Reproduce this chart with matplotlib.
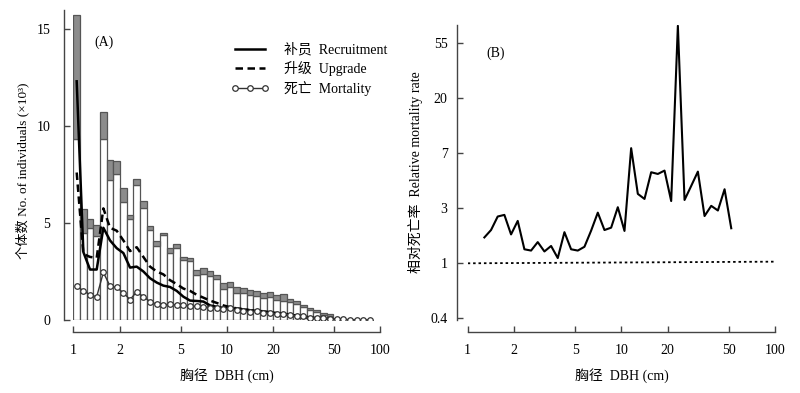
import numpy as np
import matplotlib.pyplot as plt

plt.rcParams['font.family'] = ['Liberation Serif', 'Noto Sans CJK SC']
plt.rcParams['font.size'] = 10

# ---- DBH classes: width 0.1 in ln(DBH), starting at 1 cm ----
n_class = 45
edges = np.exp(0.1 * np.arange(n_class + 1))
centers = np.exp(0.1 * (np.arange(n_class) + 0.5))

# ---- (A) number of individuals (x1000) per class ----
bar_total = [15.7, 5.7, 5.2, 4.9, 10.7, 8.24, 8.2, 6.8, 5.4, 7.25,
             6.13, 4.85, 4.07, 4.48, 3.73, 3.9, 3.24, 3.2, 2.58, 2.68,
             2.5, 2.34, 1.9, 1.96, 1.72, 1.63, 1.55, 1.48, 1.41, 1.44,
             1.29, 1.34, 1.08, 0.98, 0.77, 0.64, 0.52, 0.34, 0.31]
bar_white = [9.33, 4.5, 4.75, 4.33, 9.33, 7.2, 7.5, 6.1, 5.2, 6.95,
             5.77, 4.64, 3.83, 4.4, 3.45, 3.73, 3.1, 3.06, 2.32, 2.37,
             2.27, 2.1, 1.6, 1.72, 1.38, 1.41, 1.29, 1.25, 1.15, 1.2,
             1.03, 1.0, 0.94, 0.82, 0.69, 0.52, 0.43, 0.26, 0.2]

recruit = [12.3, 3.5, 2.6, 2.6, 4.75, 4.1, 3.7, 3.45, 2.7, 2.75,
           2.5, 2.15, 1.93, 1.77, 1.7, 1.5, 1.2, 1.0, 0.98, 0.95,
           0.75, 0.68, 0.62, 0.6, 0.58, 0.55, 0.5, 0.47, 0.45, 0.4,
           0.36, 0.32, 0.28, 0.22, 0.18, 0.13, 0.1, 0.07, 0.05, 0.03, 0.02]
upgrade = [7.6, 3.4, 3.25, 3.2, 5.75, 4.75, 4.6, 4.1, 3.55, 3.75,
           3.25, 2.75, 2.5, 2.35, 2.05, 1.85, 1.62, 1.5, 1.3, 1.15,
           1.0, 0.88, 0.75, 0.66, 0.6, 0.55, 0.5, 0.45, 0.4, 0.36,
           0.32, 0.28, 0.24, 0.2, 0.15, 0.11, 0.08, 0.06, 0.04, 0.02, 0.01]
mortality = [1.75, 1.5, 1.3, 1.2, 2.45, 1.75, 1.68, 1.4, 1.05, 1.45,
             1.2, 0.95, 0.82, 0.78, 0.82, 0.78, 0.75, 0.72, 0.7, 0.68,
             0.62, 0.6, 0.55, 0.6, 0.5, 0.48, 0.42, 0.45, 0.38, 0.35,
             0.3, 0.3, 0.25, 0.2, 0.18, 0.12, 0.1, 0.08, 0.05, 0.04,
             0.03, 0.02, 0.01, 0.01, 0.01]

# ---- (B) relative mortality rate, classes 2..39 ----
rel_first = 2
rel_mort = [1.6, 1.83, 2.34, 2.41, 1.69, 2.16, 1.29, 1.26, 1.47, 1.24,
            1.37, 1.1, 1.76, 1.29, 1.26, 1.35, 1.81, 2.51, 1.83, 1.91,
            2.77, 1.8, 8.1, 3.53, 3.22, 5.23, 5.07, 5.39, 3.1, 74.8,
            3.16, 4.08, 5.29, 2.36, 2.84, 2.61, 3.84, 1.89]
ref_x = [1, 100]
ref_y = [1.0, 1.03]

x_ticks = [1, 2, 5, 10, 20, 50, 100]
b_yticks = np.exp(np.arange(-1, 5))
b_ylabels = ['0.4', '1', '3', '7', '20', '55']

spine_c = '#444444'

fig = plt.figure(figsize=(8, 3.93), dpi=100)
axA = fig.add_axes([0.0917, 0.1858, 0.3838, 0.790])
axB = fig.add_axes([0.5846, 0.1858, 0.3841, 0.7506])


def style(ax, xoff, yoff, ypad):
    for s in ['top', 'right']:
        ax.spines[s].set_visible(False)
    ax.spines['left'].set_position(('outward', xoff))
    ax.spines['bottom'].set_position(('outward', yoff))
    for s in ['left', 'bottom']:
        ax.spines[s].set_color(spine_c)
        ax.spines[s].set_linewidth(1.0)
    ax.set_xscale('log')
    ax.set_xlim(1, 100)
    ax.set_xticks(x_ticks)
    ax.set_xticklabels([str(t) for t in x_ticks])
    ax.minorticks_off()
    ax.tick_params(axis='both', direction='in', length=4, width=1,
                   color=spine_c, labelsize=10)
    ax.tick_params(axis='x', pad=9)
    ax.tick_params(axis='y', pad=ypad)
    ax.spines['bottom'].set_bounds(1, 100)


# ---------------- panel A ----------------
nb = len(bar_total)
left = edges[:nb]
width = edges[1:nb + 1] - edges[:nb]
top_part = np.array(bar_total) - np.array(bar_white)
axA.bar(left, bar_white, width=width, align='edge', color='white',
        edgecolor='#555555', linewidth=0.9)
axA.bar(left, top_part, bottom=bar_white, width=width, align='edge',
        color='#8c8c8c', edgecolor='#555555', linewidth=0.9)

axA.plot(centers[:len(recruit)], recruit, color='black', lw=1.8,
         label='补员  Recruitment')
axA.plot(centers[:len(upgrade)], upgrade, color='black', lw=1.8,
         linestyle=(0, (3, 1.8)), label='升级  Upgrade')
axA.plot(centers[:len(mortality)], mortality, color='#333333', lw=1.0,
         marker='o', markersize=4, markerfacecolor='white',
         markeredgecolor='#333333', markeredgewidth=0.9,
         label='死亡  Mortality')

axA.set_ylim(0, 16)
axA.set_yticks([0, 5, 10, 15])
style(axA, 6.7, 8.3, 10)
axA.spines['left'].set_bounds(0, 16)
axA.set_xlabel('胸径  DBH (cm)', fontsize=10)
axA.xaxis.set_label_coords(0.5, -0.155)
axA.set_ylabel('个体数 No. of individuals (×10³)', fontsize=9.5)
axA.yaxis.set_label_coords(-0.144, 0.48)
axA.text(0.07, 0.896, '(A)', transform=axA.transAxes, fontsize=10,
         va='center', ha='left')
axA.legend(loc='upper left', bbox_to_anchor=(0.49, 0.915), frameon=False,
           fontsize=10, handlelength=2.8, handletextpad=1.0,
           labelspacing=0.35, borderpad=0, numpoints=3)

# ---------------- panel B ----------------
axB.set_yscale('log')
axB.plot(centers[rel_first:rel_first + len(rel_mort)], rel_mort,
         color='black', lw=1.5)
axB.plot(ref_x, ref_y, color='black', lw=1.3, linestyle=(0, (1.4, 1.6)))
axB.set_ylim(np.exp(-1.03), np.exp(4.33))
axB.set_yticks(b_yticks)
axB.set_yticklabels(b_ylabels)
style(axB, 7.5, 8.6, 7)
axB.set_xlabel('胸径  DBH (cm)', fontsize=10)
axB.xaxis.set_label_coords(0.502, -0.163)
axB.set_ylabel('相对死亡率  Relative mortality rate', fontsize=10)
axB.yaxis.set_label_coords(-0.145, 0.5)
axB.text(0.062, 0.905, '(B)', transform=axB.transAxes, fontsize=10,
         va='center', ha='left')

fig.savefig('out.png', dpi=100)
